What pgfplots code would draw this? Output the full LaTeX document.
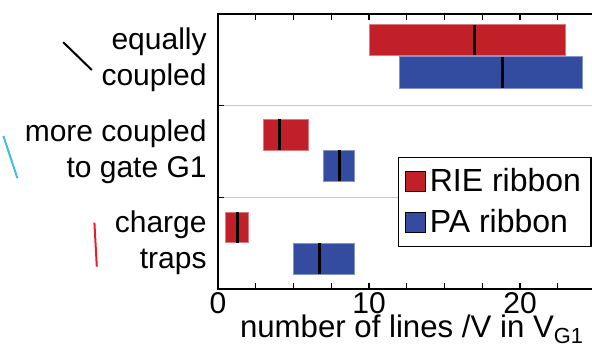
\documentclass[border=0pt]{standalone}
\usepackage{pgfplots}
\pgfplotsset{compat=1.18}
\usepackage{fontspec}
\setmainfont{Liberation Sans}
\definecolor{rie}{RGB}{193,32,40}
\definecolor{pa}{RGB}{52,76,160}
\definecolor{cyanline}{RGB}{60,190,230}
\definecolor{redline}{RGB}{230,30,40}
\newcommand{\lf}{\fontsize{15}{18}\selectfont}
\begin{document}
\begin{tikzpicture}
\useasboundingbox (0,0) rectangle (296pt,175.5pt);
\clip (0,0) rectangle (296pt,175.5pt);
\begin{axis}[
  at={(109pt,31pt)}, anchor=south west,
  scale only axis, width=188.75pt, height=137.5pt,
  xmin=0, xmax=25, ymin=0, ymax=3,
  clip=false,
  axis line style={line width=0.8pt},
  xtick={0,10,20}, minor xtick={2.5,5,7.5,12.5,15,17.5,22.5},
  xtick pos=both, xticklabel pos=lower,
  tick align=inside,
  major tick length=3pt, minor tick length=3pt,
  every tick/.style={black, line width=0.6pt},
  ytick={1,2}, yticklabels={}, ytick pos=left,
  ymajorgrids=true,
  major grid style={color=black!22, line width=0.8pt},
  /pgf/number format/assume math mode=true,
  ticklabel style={font=\lf},
  xticklabel style={anchor=base, yshift=-12.4pt, inner sep=0pt},
  xlabel={number of lines /V in V\textsubscript{G1}},
  xlabel style={font=\fontsize{15.6}{18}\selectfont, at={(axis description cs:0.514,0)}, anchor=base, yshift=-24.5pt, inner sep=0pt},
  legend style={at={(0.477,0.481)}, anchor=north west, draw=black, line width=0.6pt,
    font=\fontsize{16}{19}\selectfont, inner xsep=3pt, inner ysep=3.5pt, row sep=3.5pt},
  legend cell align=left,
  legend image code/.code={\fill[#1] (0pt,-5pt) rectangle (10pt,5pt);},
]
% equally coupled
\addplot[fill=rie, draw=rie!60!white, line width=0.4pt, forget plot] coordinates {(10,2.549) (23,2.549) (23,2.883) (10,2.883)} -- cycle;
\addplot[fill=pa, draw=pa!60!white, line width=0.4pt, forget plot] coordinates {(12,2.193) (24.1,2.193) (24.1,2.534) (12,2.534)} -- cycle;
\addplot[black, line width=1.4pt, forget plot] coordinates {(17,2.549) (17,2.883)};
\addplot[black, line width=1.4pt, forget plot] coordinates {(18.85,2.193) (18.85,2.534)};
% more coupled to gate G1
\addplot[fill=rie, draw=rie!60!white, line width=0.4pt, forget plot] coordinates {(3,1.516) (6,1.516) (6,1.854) (3,1.854)} -- cycle;
\addplot[fill=pa, draw=pa!60!white, line width=0.4pt, forget plot] coordinates {(7,1.178) (9,1.178) (9,1.516) (7,1.516)} -- cycle;
\addplot[black, line width=1.4pt, forget plot] coordinates {(4.05,1.516) (4.05,1.854)};
\addplot[black, line width=1.4pt, forget plot] coordinates {(8.03,1.178) (8.03,1.516)};
% charge traps
\addplot[fill=rie, draw=rie!60!white, line width=0.4pt, forget plot] coordinates {(0.5,0.505) (2,0.505) (2,0.837) (0.5,0.837)} -- cycle;
\addplot[fill=pa, draw=pa!60!white, line width=0.4pt, forget plot] coordinates {(5,0.164) (9,0.164) (9,0.502) (5,0.502)} -- cycle;
\addplot[black, line width=1.4pt, forget plot] coordinates {(1.28,0.505) (1.28,0.837)};
\addplot[black, line width=1.4pt, forget plot] coordinates {(6.7,0.164) (6.7,0.502)};
\addlegendimage{fill=rie}
\addlegendentry{RIE ribbon}
\addlegendimage{fill=pa}
\addlegendentry{PA ribbon}
\node[anchor=east, align=right, inner sep=0pt, font=\lf, xshift=-5.5pt] at (axis cs:0,2.5) {equally\\coupled};
\node[anchor=east, align=right, inner sep=0pt, font=\lf, xshift=-5.5pt] at (axis cs:0,1.5) {more coupled\\to gate G1};
\node[anchor=east, align=right, inner sep=0pt, font=\lf, xshift=-5.5pt] at (axis cs:0,0.5) {charge\\traps};
\end{axis}
\draw[black, line width=1pt] (31.6pt,154.4pt) -- (45.9pt,140.5pt);
\draw[cyanline, line width=1pt] (1.7pt,107.5pt) -- (8.7pt,86.4pt);
\draw[redline, line width=1pt] (47.2pt,64.2pt) -- (48.4pt,42.2pt);
\end{tikzpicture}
\end{document}
